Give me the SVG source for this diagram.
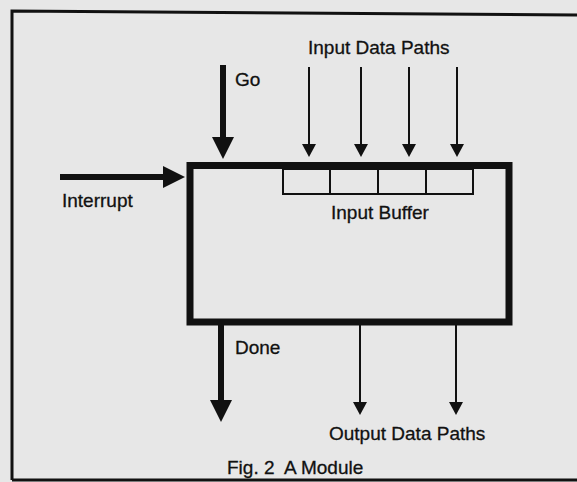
<svg xmlns="http://www.w3.org/2000/svg" width="577" height="482" viewBox="0 0 577 482">
<style>
.t{font-family:"Liberation Sans",Arial,sans-serif;font-size:19px;fill:#111;stroke:#111;stroke-width:0.3;white-space:pre}
.frame{fill:none;stroke:#111;stroke-width:3}
.box{fill:none;stroke:#111;stroke-width:7}
.buf{fill:none;stroke:#111;stroke-width:2}
.thick{stroke:#111;stroke-width:6;fill:none}
.thin{stroke:#111;stroke-width:2;fill:none}
</style>
<defs>
<marker id="big" markerUnits="userSpaceOnUse" markerWidth="22" markerHeight="22" refX="10" refY="11" orient="auto">
<path d="M0,0 L22,11 L0,22 Z" fill="#111"/>
</marker>
<marker id="small" markerUnits="userSpaceOnUse" markerWidth="14" markerHeight="14" refX="5" refY="7" orient="auto">
<path d="M0,0 L13,7 L0,14 Z" fill="#111"/>
</marker>
</defs>
<rect width="577" height="482" fill="#e7e7e7"/>
<g id="frame">
<path class="frame" d="M12,480 L12,11 L577,15"/>
<path class="frame" d="M12,480 L577,480"/>
</g>
<g id="module">
<rect class="box" x="190" y="165.5" width="319" height="156.5"/>
</g>
<g id="input-buffer">
<rect class="buf" x="283" y="169" width="190" height="25"/>
<path class="buf" d="M330,169 V194 M378,169 V194 M426,169 V194"/>
<text class="t" x="331" y="219">Input Buffer</text>
</g>
<g id="connectors">
<line class="thick" x1="223" y1="65" x2="223" y2="147" marker-end="url(#big)"/>
<line class="thick" x1="60" y1="177" x2="173" y2="177" marker-end="url(#big)"/>
<line class="thick" x1="221" y1="325" x2="221" y2="410" marker-end="url(#big)"/>
<line class="thin" x1="309" y1="67" x2="309" y2="149" marker-end="url(#small)"/>
<line class="thin" x1="361" y1="67" x2="361" y2="149" marker-end="url(#small)"/>
<line class="thin" x1="409" y1="67" x2="409" y2="149" marker-end="url(#small)"/>
<line class="thin" x1="457" y1="67" x2="457" y2="149" marker-end="url(#small)"/>
<line class="thin" x1="360" y1="325" x2="360" y2="407" marker-end="url(#small)"/>
<line class="thin" x1="456" y1="325" x2="456" y2="407" marker-end="url(#small)"/>
</g>
<g id="labels">
<text class="t" x="308" y="54">Input Data Paths</text>
<text class="t" x="235" y="86">Go</text>
<text class="t" x="62" y="207">Interrupt</text>
<text class="t" x="235" y="354">Done</text>
<text class="t" x="329" y="440">Output Data Paths</text>
<text class="t" x="227" y="474">Fig. 2  A Module</text>
</g>
</svg>
